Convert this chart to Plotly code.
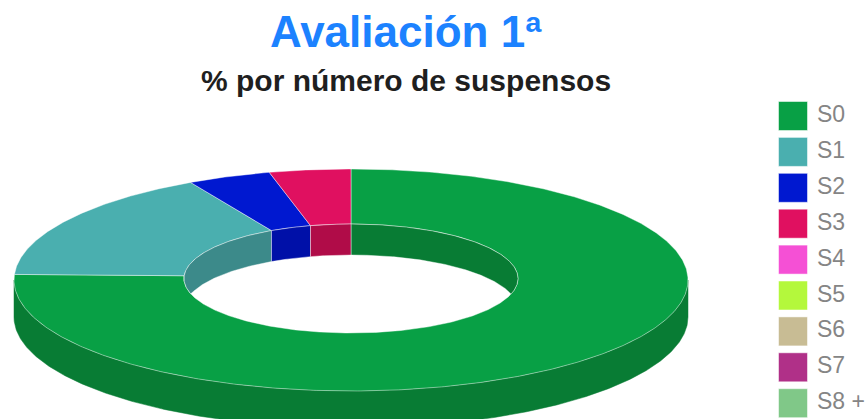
import numpy as np
import plotly.graph_objects as go

# Data
categories = ["S0", "S1", "S2", "S3", "S4", "S5", "S6", "S7", "S8 +"]
values = [75.8, 16.3, 4.0, 3.9, 0, 0, 0, 0, 0]
title_text = "Avaliación 1ª"
subtitle_text = "% por número de suspensos"

# Styles
face_colors = ["#08A045", "#4AAFAF", "#0018D0", "#E01060", "#F550D5", "#B4F83C", "#C8BC94", "#B03088", "#80C888"]
dark_colors = ["#087C34", "#3C8A8A", "#0010A8", "#B00C48", "#C040A8", "#90C830", "#A09676", "#8C266C", "#66A06C"]
EDGE = "rgba(255,255,255,0.42)"

# Geometry of the projected ring, in page pixels
CX = 351.0
CY_O, RX_O, RY_O = 280.0, 337.0, 111.0
CY_I, RX_I, RY_I = 278.5, 167.0, 54.5
T_O, T_I = 37.0, 31.0


def pt(deg, rx, ry, cy):
    t = np.radians(deg)
    return CX + rx * np.sin(t), cy - ry * np.cos(t)


def arc(a, b, n=None):
    n = n or max(2, int(abs(b - a) * 2) + 2)
    return np.linspace(a, b, n)


def overlap(a, b, lo, hi):
    """Parts of the slice [a, b] inside [lo, hi], allowing for a full turn."""
    out = []
    for k in (-360, 0, 360):
        s, e = max(a, lo + k), min(b, hi + k)
        if e > s:
            out.append((s, e))
    return out


fig = go.Figure()


def poly(x, y, fill, line=EDGE, width=1):
    fig.add_trace(go.Scatter(x=list(x) + [x[0]], y=list(y) + [y[0]], mode="lines", fill="toself",
                             fillcolor=fill, line=dict(color=line, width=width),
                             hoverinfo="skip", showlegend=False))


edges = np.cumsum([0] + values) / sum(values) * 360

# outer side wall (front half)
for i in range(len(values)):
    for s, e in overlap(edges[i], edges[i + 1], 90, 270):
        th = arc(s, e)
        x, y = pt(th, RX_O, RY_O, CY_O)
        poly(np.r_[x, x[::-1]], np.r_[y + T_O, y[::-1]], dark_colors[i], line=dark_colors[i], width=0.5)

# top face
for i in range(len(values)):
    if values[i] <= 0:
        continue
    th = arc(edges[i], edges[i + 1])
    xo, yo = pt(th, RX_O, RY_O, CY_O)
    xi, yi = pt(th[::-1], RX_I, RY_I, CY_I)
    poly(np.r_[xo, xi], np.r_[yo, yi], face_colors[i])

# inner wall (back half), cut off where it meets the near rim of the hole
for i in range(len(values)):
    for s, e in overlap(edges[i], edges[i + 1], 270, 450):
        th = arc(s, e)
        x, y = pt(th, RX_I, RY_I, CY_I)
        bottom = np.minimum(y + T_I, CY_I + RY_I * np.abs(np.cos(np.radians(th))))
        poly(np.r_[x, x[::-1]], np.r_[y, bottom[::-1]], dark_colors[i])

# Legend column
LEG_X, LEG_Y0, LEG_DY = 793, 116, 35.9
for i, name in enumerate(categories):
    fig.add_trace(go.Scatter(x=[LEG_X], y=[LEG_Y0 + i * LEG_DY], mode="markers",
                             marker=dict(symbol="square", size=29, color=face_colors[i],
                                         line=dict(color="rgba(255,255,255,0.5)", width=1)),
                             name=name, showlegend=False, hovertemplate=name + "<extra></extra>"))
    fig.add_annotation(x=817, y=LEG_Y0 + i * LEG_DY - 2, text=name, showarrow=False, xanchor="left",
                       yanchor="middle", xshift=-2,
                       font=dict(family="Liberation Sans", size=23, color="#858585"))

fig.add_annotation(x=406, y=31, text="<b>" + title_text + "</b>", showarrow=False, xanchor="center",
                   yanchor="middle", font=dict(family="Liberation Sans", size=44, color="#1C82FF"))
fig.add_annotation(x=405.5, y=80, text="<b>" + subtitle_text + "</b>", showarrow=False, xanchor="center",
                   yanchor="middle", font=dict(family="Liberation Sans", size=30, color="#1F1F1F"))

fig.update_layout(width=867, height=419, margin=dict(l=0, r=0, t=0, b=0),
                  paper_bgcolor="white", plot_bgcolor="white", showlegend=False,
                  xaxis=dict(range=[0, 867], visible=False, fixedrange=True),
                  yaxis=dict(range=[419, 0], visible=False, fixedrange=True))
fig.write_html("out.html", config={"displayModeBar": False},
               post_script="document.body.style.margin='0';document.documentElement.style.overflow='hidden';")
